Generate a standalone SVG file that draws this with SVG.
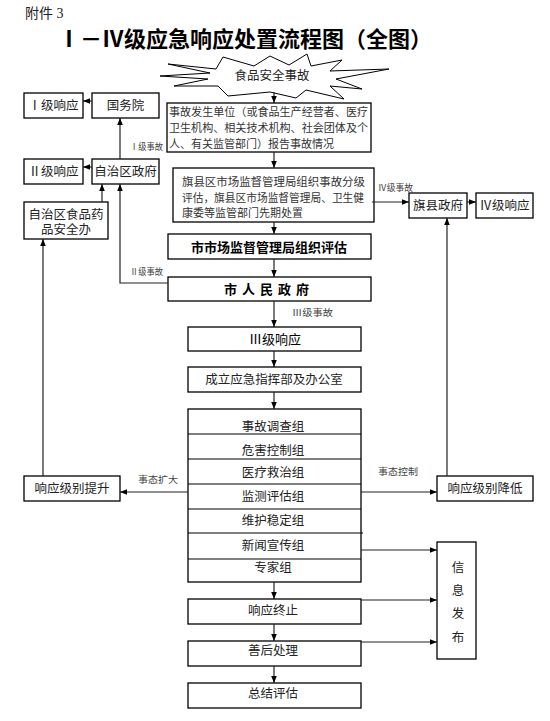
<svg xmlns="http://www.w3.org/2000/svg" width="550" height="721" viewBox="0 0 550 721">
<defs>
<marker id="ah" viewBox="0 0 10 10" refX="10" refY="5" markerWidth="7" markerHeight="7" markerUnits="userSpaceOnUse" orient="auto">
<path d="M0,1 L10,5 L0,9 Z" fill="#000"/>
</marker>
<style>
.box{fill:#fff;stroke:#000;stroke-width:1.3}
.t{font-family:"Liberation Serif","Noto Sans CJK SC",serif;font-size:12.5px;fill:#222;text-anchor:middle}
.tl{font-family:"Liberation Serif","Noto Sans CJK SC",serif;font-size:10.8px;fill:#333}
.b{font-family:"Liberation Sans","Noto Sans CJK SC",sans-serif;font-size:13px;font-weight:bold;fill:#000;text-anchor:middle}
.lab{font-family:"Liberation Serif","Noto Sans CJK SC",serif;font-size:9.5px;fill:#444}
.c{fill:none;stroke:#222;stroke-width:1.2;marker-end:url(#ah)}
</style>
</defs>
<rect width="550" height="721" fill="#fff"/>
<text x="25" y="18" font-family="Liberation Serif,Noto Sans CJK SC,serif" font-size="14" fill="#222">附件 3</text>
<text x="58" y="47" font-family="Liberation Serif,Noto Sans CJK SC,serif" font-size="22" font-weight="bold" fill="#000" textLength="374" lengthAdjust="spacingAndGlyphs">Ⅰ－Ⅳ级应急响应处置流程图（全图）</text>

<g id="start">
<path d="M168,64 L216,69 L223,57 L254,66 L270,56 L289,65 L307,54 L311,66 L342,60 L330,71 L389,69 L336,79 L362,89 L330,86 L344,99 L306,90 L296,98 L270,92 L228,96 L218,86 L174,86 L208,79 L160,76 L210,73 Z" fill="#fff" stroke="#000" stroke-width="1"/>
<text class="t" x="272" y="80" font-size="13">食品安全事故</text>
</g>

<g id="report">
<rect class="box" x="167" y="103" width="204" height="49"/>
<text class="tl" x="169" y="116" textLength="199" lengthAdjust="spacingAndGlyphs">事故发生单位（或食品生产经营者、医疗</text>
<text class="tl" x="169" y="132" textLength="199" lengthAdjust="spacingAndGlyphs">卫生机构、相关技术机构、社会团体及个</text>
<text class="tl" x="169" y="148" textLength="165" lengthAdjust="spacingAndGlyphs">人、有关监管部门）报告事故情况</text>
</g>

<g id="county-assess">
<rect class="box" x="173" y="168" width="201" height="54"/>
<text class="tl" x="182" y="186" textLength="183" lengthAdjust="spacingAndGlyphs">旗县区市场监督管理局组织事故分级</text>
<text class="tl" x="182" y="202" textLength="182" lengthAdjust="spacingAndGlyphs">评估，旗县区市场监督管理局、卫生健</text>
<text class="tl" x="182" y="217" font-size="10" textLength="121" lengthAdjust="spacingAndGlyphs">康委等监管部门先期处置</text>
</g>

<g id="city-assess">
<rect class="box" x="168" y="234" width="203" height="25"/>
<text class="b" x="269" y="251.5">市市场监督管理局组织评估</text>
</g>

<g id="city-gov">
<rect class="box" x="168" y="277" width="203" height="24"/>
<text class="b" x="269" y="294" letter-spacing="5">市人民政府</text>
</g>

<g id="level3">
<rect class="box" x="188" y="327" width="173" height="24"/>
<text class="b" x="275" y="344" style="font-weight:normal">Ⅲ级响应</text>
</g>

<g id="command">
<rect class="box" x="188" y="367" width="173" height="25"/>
<text class="t" x="274" y="384">成立应急指挥部及办公室</text>
</g>

<g id="groups">
<rect class="box" x="188" y="409" width="173" height="173"/>
<path d="M188,434 H361 M188,459 H361 M188,484 H361 M188,509 H361 M188,533 H363 M188,559 H361" stroke="#000" stroke-width="1.2"/>
<text class="t" x="273" y="431">事故调查组</text>
<text class="t" x="273" y="455">危害控制组</text>
<text class="t" x="273" y="477">医疗救治组</text>
<text class="t" x="273" y="501">监测评估组</text>
<text class="t" x="273" y="525">维护稳定组</text>
<text class="t" x="273" y="550">新闻宣传组</text>
<text class="t" x="273" y="572">专家组</text>
</g>

<g id="end">
<rect class="box" x="188" y="599" width="173" height="25"/>
<text class="t" x="273" y="615">响应终止</text>
</g>
<g id="aftermath">
<rect class="box" x="188" y="641" width="173" height="25"/>
<text class="t" x="273" y="655">善后处理</text>
</g>
<g id="summary">
<rect class="box" x="188" y="683" width="173" height="25"/>
<text class="t" x="273" y="698">总结评估</text>
</g>

<g id="info">
<rect class="box" x="437" y="542" width="39" height="117"/>
<text class="t" x="458" y="572" font-size="13">信</text>
<text class="t" x="458" y="595" font-size="13">息</text>
<text class="t" x="458" y="618" font-size="13">发</text>
<text class="t" x="458" y="642" font-size="13">布</text>
</g>

<g id="county-gov">
<rect class="box" x="409" y="193" width="58" height="25"/>
<text class="t" x="438" y="210" font-size="11">旗县政府</text>
</g>
<g id="level4">
<rect class="box" x="476" y="193" width="57" height="25"/>
<text class="t" x="504.5" y="210" font-size="11">Ⅳ级响应</text>
</g>

<g id="lower">
<rect class="box" x="437" y="476" width="96" height="25"/>
<text class="t" x="485" y="493">响应级别降低</text>
</g>
<g id="raise">
<rect class="box" x="24" y="476" width="96" height="25"/>
<text class="t" x="72" y="493">响应级别提升</text>
</g>

<g id="state-council">
<rect class="box" x="92" y="93" width="67" height="25"/>
<text class="t" x="125.5" y="110" font-size="11">国务院</text>
</g>
<g id="level1">
<rect class="box" x="24" y="93" width="59" height="25"/>
<text class="t" x="53.5" y="110" font-size="11">Ⅰ级响应</text>
</g>
<g id="region-gov">
<rect class="box" x="92" y="159" width="67" height="25"/>
<text class="t" x="125.5" y="176" font-size="11">自治区政府</text>
</g>
<g id="level2">
<rect class="box" x="24" y="159" width="59" height="25"/>
<text class="t" x="53.5" y="176" font-size="11">Ⅱ级响应</text>
</g>
<g id="region-food">
<rect class="box" x="24" y="202" width="84" height="37"/>
<text class="t" x="66" y="219" font-size="11">自治区食品药</text>
<text class="t" x="66" y="234" font-size="11">品安全办</text>
</g>

<g id="connectors">
<path class="c" d="M274,92 V103"/>
<path class="c" d="M274,152 V168"/>
<path class="c" d="M274,222 V234"/>
<path class="c" d="M274,259 V277"/>
<path class="c" d="M274,301 V327"/>
<path class="c" d="M274,351 V367"/>
<path class="c" d="M274,392 V409"/>
<path class="c" d="M274,582 V599"/>
<path class="c" d="M274,624 V641"/>
<path class="c" d="M274,666 V683"/>
<path class="c" d="M372,202 H409"/>
<path class="c" d="M467,202 H476"/>
<path class="c" d="M447,476 V218"/>
<path class="c" d="M361,492 H437"/>
<path class="c" d="M188,492 H120"/>
<path class="c" d="M43,476 V239"/>
<path class="c" d="M102,202 V184"/>
<path class="c" d="M168,283 H120 V184"/>
<path class="c" d="M120,159 V118"/>
<path class="c" d="M92,101 H83"/>
<path class="c" d="M92,167 H83"/>
<path class="c" d="M361,550 H437"/>
<path class="c" d="M361,600 H437"/>
<path class="c" d="M361,642 H437"/>
<text class="lab" x="130" y="150" textLength="33" lengthAdjust="spacingAndGlyphs">Ⅰ级事故</text>
<text class="lab" x="130" y="275" textLength="33" lengthAdjust="spacingAndGlyphs">Ⅱ级事故</text>
<text class="lab" x="292" y="316" textLength="41" lengthAdjust="spacingAndGlyphs">Ⅲ级事故</text>
<text class="lab" x="378" y="191" textLength="35" lengthAdjust="spacingAndGlyphs">Ⅳ级事故</text>
<text class="lab" x="138" y="483" textLength="40" lengthAdjust="spacingAndGlyphs">事态扩大</text>
<text class="lab" x="378" y="475" textLength="40" lengthAdjust="spacingAndGlyphs">事态控制</text>
</g>
</svg>
